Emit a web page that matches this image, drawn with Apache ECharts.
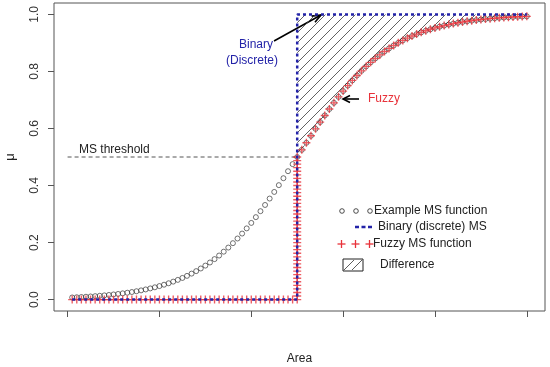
<!DOCTYPE html>
<html><head><meta charset="utf-8">
<script src="https://cdn.jsdelivr.net/npm/echarts@6/dist/echarts.min.js"></script>
<style>html,body{margin:0;padding:0;background:#fff}#c{width:550px;height:367px}</style>
</head><body><div id="c"></div>
<script>
// x positions (Area index)
const areaX = [1,2,3,4,5,6,7,8,9,10,11,12,13,14,15,16,17,18,19,20,21,22,23,24,25,26,27,28,29,30,31,32,33,34,35,36,37,38,39,40,41,42,43,44,45,46,47,48,49,50,51,52,53,54,55,56,57,58,59,60,61,62,63,64,65,66,67,68,69,70,71,72,73,74,75,76,77,78,79,80,81,82,83,84,85,86,87,88,89,90,91,92,93,94,95,96,97,98,99,100];
// Example MS function (circles)
const exampleMS = [0.0074,0.0082,0.0090,0.0100,0.0110,0.0121,0.0134,0.0148,0.0163,0.0180,0.0198,0.0219,0.0241,0.0266,0.0293,0.0323,0.0356,0.0392,0.0431,0.0474,0.0522,0.0573,0.0630,0.0691,0.0759,0.0832,0.0911,0.0998,0.1091,0.1192,0.1301,0.1419,0.1545,0.1680,0.1824,0.1978,0.2142,0.2315,0.2497,0.2689,0.2891,0.3100,0.3318,0.3543,0.3775,0.4013,0.4256,0.4502,0.4750,0.5000,0.5250,0.5498,0.5744,0.5987,0.6225,0.6457,0.6682,0.6900,0.7109,0.7311,0.7503,0.7685,0.7858,0.8022,0.8176,0.8320,0.8455,0.8581,0.8699,0.8808,0.8909,0.9002,0.9089,0.9168,0.9241,0.9309,0.9370,0.9427,0.9478,0.9526,0.9569,0.9608,0.9644,0.9677,0.9707,0.9734,0.9759,0.9781,0.9802,0.9820,0.9837,0.9852,0.9866,0.9879,0.9890,0.9901,0.9910,0.9918,0.9926,0.9933];
// Binary (discrete) MS
const binaryMS = [0,0,0,0,0,0,0,0,0,0,0,0,0,0,0,0,0,0,0,0,0,0,0,0,0,0,0,0,0,0,0,0,0,0,0,0,0,0,0,0,0,0,0,0,0,0,0,0,0,1,1,1,1,1,1,1,1,1,1,1,1,1,1,1,1,1,1,1,1,1,1,1,1,1,1,1,1,1,1,1,1,1,1,1,1,1,1,1,1,1,1,1,1,1,1,1,1,1,1,1];
// Fuzzy MS function (crosses)
const fuzzyMS = [0,0,0,0,0,0,0,0,0,0,0,0,0,0,0,0,0,0,0,0,0,0,0,0,0,0,0,0,0,0,0,0,0,0,0,0,0,0,0,0,0,0,0,0,0,0,0,0,0,0.5000,0.5250,0.5498,0.5744,0.5987,0.6225,0.6457,0.6682,0.6900,0.7109,0.7311,0.7503,0.7685,0.7858,0.8022,0.8176,0.8320,0.8455,0.8581,0.8699,0.8808,0.8909,0.9002,0.9089,0.9168,0.9241,0.9309,0.9370,0.9427,0.9478,0.9526,0.9569,0.9608,0.9644,0.9677,0.9707,0.9734,0.9759,0.9781,0.9802,0.9820,0.9837,0.9852,0.9866,0.9879,0.9890,0.9901,0.9910,0.9918,0.9926,0.9933];
// crosses stacked on the vertical jump of the fuzzy function at Area = 50
const fuzzyJumpX = 50;
const fuzzyJumpY = [0,0.0125,0.025,0.0375,0.05,0.0625,0.075,0.0875,0.1,0.1125,0.125,0.1375,0.15,0.1625,0.175,0.1875,0.2,0.2125,0.225,0.2375,0.25,0.2625,0.275,0.2875,0.3,0.3125,0.325,0.3375,0.35,0.3625,0.375,0.3875,0.4,0.4125,0.425,0.4375,0.45,0.4625,0.475,0.4875];
const threshold = 0.5;
const thresholdX = [0, 50];
const xTicks = [0,20,40,60,80,100];
const yTicks = [0,0.2,0.4,0.6,0.8,1.0];
const legendLabels = ['Example MS function','Binary (discrete) MS','Fuzzy MS function','Difference'];

function hatchCanvas(){
  const c=document.createElement('canvas'); c.width=10; c.height=10;
  const g=c.getContext('2d'); g.strokeStyle='#3a3a3a'; g.lineWidth=0.8;
  g.beginPath();
  g.moveTo(-1,11); g.lineTo(11,-1);
  g.moveTo(-1,1); g.lineTo(1,-1);
  g.moveTo(9,11); g.lineTo(11,9);
  g.stroke(); return c;
}
const pattern = {image: hatchCanvas(), repeat:'repeat'};
const FONT = "'Liberation Sans', Arial, sans-serif";
const RED = '#e8323a', BLUE = '#2323a8';

const exampleData = areaX.map((x,i)=>[x, exampleMS[i]]);
const binaryData = areaX.map((x,i)=>[x, binaryMS[i]]);
const fuzzyData = areaX.map((x,i)=>[x, fuzzyMS[i]]).concat(fuzzyJumpY.map(y=>[fuzzyJumpX,y]));
const diffData = areaX.map((x,i)=>[x, fuzzyMS[i]]).filter(d=>d[0]>=fuzzyJumpX);

const plus = 'path://M-0.17,-1L0.17,-1L0.17,1L-0.17,1ZM-1,-0.17L1,-0.17L1,0.17L-1,0.17Z';

function seg(x1,y1,x2,y2,stroke,w,dash){
  return {type:'line', shape:{x1,y1,x2,y2}, style:{stroke, lineWidth:w, lineDash:dash||null}};
}
function txt(x,y,text,fill,align){
  return {type:'text', x, y, style:{text, fill, font:"12px "+FONT, textAlign:align||'left', textVerticalAlign:'middle'}};
}

const chart = echarts.init(document.getElementById('c'), null, {renderer:'canvas'});
chart.setOption({
  animation:false,
  textStyle:{fontFamily:FONT},
  grid:{left:54, top:3, width:491, height:308, show:true, borderColor:'#555', borderWidth:1, backgroundColor:'transparent',
    containLabel:false, outerBoundsMode:'none'},
  xAxis:{type:'value', min:-2.96, max:103.96, name:'Area', nameLocation:'middle', nameGap:42,
    nameTextStyle:{fontSize:12, color:'#222', fontFamily:FONT},
    axisLine:{show:false, onZero:false}, splitLine:{show:false},
    axisTick:{show:true, length:6, customValues:xTicks, lineStyle:{color:'#555'}},
    axisLabel:{show:false}},
  yAxis:{type:'value', min:-0.04, max:1.04, name:'μ', nameLocation:'middle', nameGap:37, nameRotate:90,
    nameTextStyle:{fontSize:13, color:'#222', fontFamily:FONT},
    axisLine:{show:false, onZero:false}, splitLine:{show:false},
    axisTick:{show:true, length:6, customValues:yTicks, lineStyle:{color:'#555'}},
    axisLabel:{show:true, rotate:90, margin:13, customValues:yTicks, fontSize:12, color:'#333', fontFamily:FONT,
      formatter:v=>v.toFixed(1)}},
  series:[
    {name:'Difference', type:'line', data:diffData, symbol:'none', lineStyle:{width:0},
      areaStyle:{color:pattern, opacity:1, origin:1}, z:1, silent:true},
    {name:'threshold', type:'line', data:thresholdX.map(x=>[x,threshold]), symbol:'none',
      lineStyle:{color:'#555', width:1, type:[4,3]}, z:2, silent:true},
    {name:'Example MS function', type:'scatter', data:exampleData, symbol:'circle', symbolSize:5,
      itemStyle:{color:'rgba(0,0,0,0)', borderColor:'#222', borderWidth:0.8}, z:3},
    {name:'Fuzzy MS function', type:'scatter', data:fuzzyData, symbol:plus, symbolSize:8,
      itemStyle:{color:RED}, z:4},
    {name:'Binary (discrete) MS', type:'line', data:binaryData, step:'end', symbol:'none',
      lineStyle:{color:BLUE, width:2.5, type:[3,3]}, z:5, silent:true}
  ],
  graphic:[
    txt(79,150,'MS threshold','#222'),
    txt(256,45,'Binary',BLUE,'center'),
    txt(252,61,'(Discrete)',BLUE,'center'),
    seg(274,41,321,15,'#000',1.6),
    {type:'polyline', shape:{points:[[311.6,16.1],[321,15],[315,22.3]]}, style:{stroke:'#000', lineWidth:1.6, fill:null}},
    seg(359,99,343,99,'#000',1.6),
    {type:'polyline', shape:{points:[[350,95.5],[343,99],[350,102.5]]}, style:{stroke:'#000', lineWidth:1.6, fill:null}},
    txt(368,99,'Fuzzy',RED),
    // legend
    {type:'circle', shape:{cx:342,cy:211,r:2.3}, style:{fill:null, stroke:'#222', lineWidth:0.8}},
    {type:'circle', shape:{cx:356,cy:211,r:2.3}, style:{fill:null, stroke:'#222', lineWidth:0.8}},
    {type:'circle', shape:{cx:370,cy:211,r:2.3}, style:{fill:null, stroke:'#222', lineWidth:0.8}},
    txt(374,211,legendLabels[0],'#222'),
    seg(355,227,372,227,BLUE,2.5,[4,2.5]),
    txt(378,227,legendLabels[1],'#222'),
    seg(337.5,244,345.5,244,RED,1.3), seg(341.5,240,341.5,248,RED,1.3),
    seg(351.5,244,359.5,244,RED,1.3), seg(355.5,240,355.5,248,RED,1.3),
    seg(365.5,244,373.5,244,RED,1.3), seg(369.5,240,369.5,248,RED,1.3),
    txt(373,244,legendLabels[2],'#222'),
    {type:'rect', shape:{x:343,y:259,width:20,height:12}, style:{fill:'#fff', stroke:'#222', lineWidth:1}},
    seg(344,270,354,260,'#333',0.8),
    seg(352,270,362,260,'#333',0.8),
    txt(380,265,legendLabels[3],'#222')
  ]
});
</script></body></html>
